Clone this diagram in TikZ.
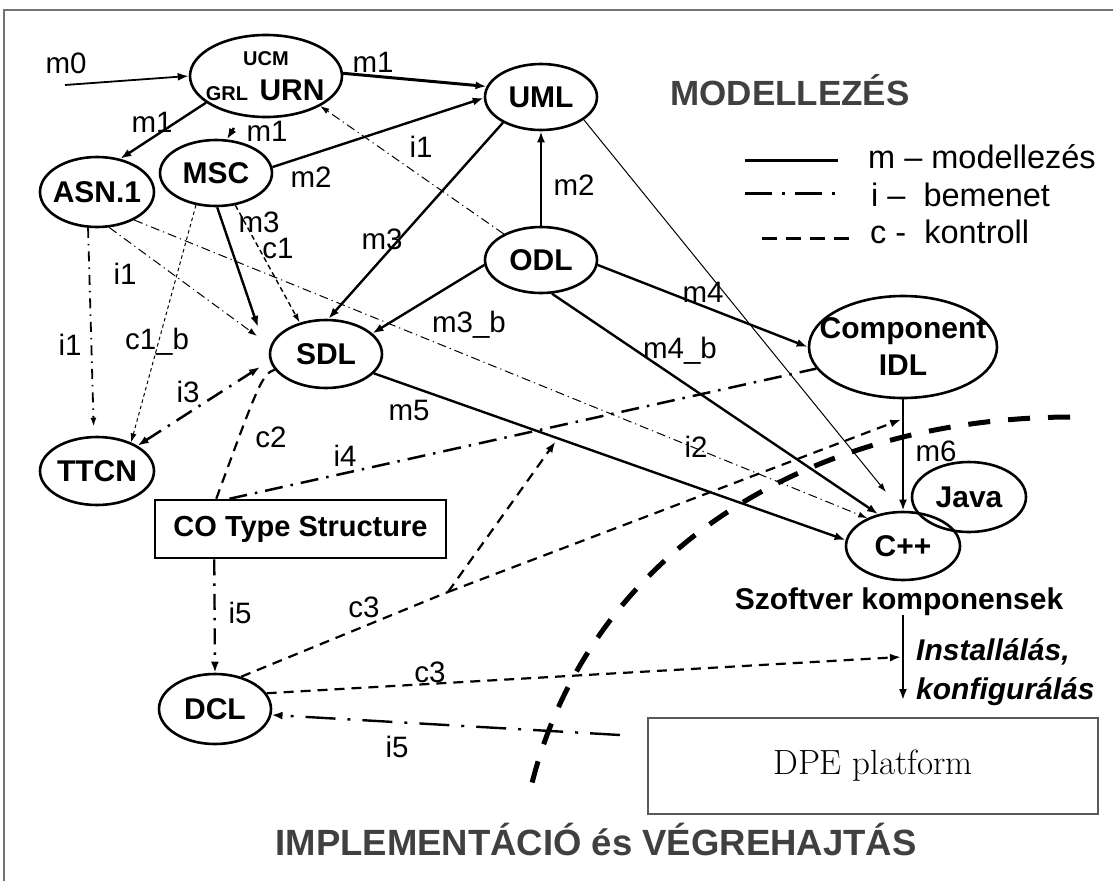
\documentclass[tikz,border=0pt]{standalone}
\usepackage{fontspec}
\setsansfont{Liberation Sans}
\usetikzlibrary{arrows.meta,shapes.geometric,calc}
\begin{document}
\begin{tikzpicture}[x=1pt,y=-1pt,
  ell/.style={ellipse, draw, line width=2.6pt, inner sep=-60pt, align=center,
    font=\sffamily\bfseries\fontsize{30}{37}\selectfont},
  lbl/.style={font=\sffamily\fontsize{29.5}{33}\selectfont, inner sep=0pt, text height=21pt, text depth=0pt},
  bigtip/.style={-{Latex[length=11pt,width=8pt]}},
  smalltip/.style={-{Latex[length=9pt,width=6pt]}},
  mline/.style={line width=2.4pt, bigtip},
  cdash/.style={line width=2.2pt, dash pattern=on 10pt off 7pt},
  cone/.style={line width=1.4pt, dash pattern=on 5pt off 3.5pt, smalltip},
  conebee/.style={line width=1pt, dash pattern=on 3.5pt off 3pt, smalltip},
  ithin/.style={line width=1pt, dash pattern=on 9pt off 4pt on 1.2pt off 4pt, smalltip},
  imed/.style={line width=1.8pt, dash pattern=on 10pt off 6pt on 1.5pt off 6pt, smalltip},
  ithick/.style={line width=2.5pt, dash pattern=on 18pt off 8pt on 2.5pt off 8pt},
  legtxt/.style={font=\sffamily\fontsize{32.5}{36}\selectfont, inner sep=0pt, anchor=base west}
]
\useasboundingbox (0,0) rectangle (1113,881);
% frame
\draw[line width=1.5pt, black!55] (4,881) -- (4,10) -- (1113,10);

% nodes
\node[ell, minimum width=152pt, minimum height=82pt] (URN) at (266,76) {};
\node[font=\sffamily\bfseries\fontsize{20}{24}\selectfont, inner sep=0pt, anchor=base] (ucm) at (266,65) {UCM};
\node[font=\sffamily\bfseries\fontsize{20}{24}\selectfont, inner sep=0pt, anchor=base] (grl) at (227,100) {GRL};
\node[font=\sffamily\bfseries\fontsize{30}{34}\selectfont, inner sep=0pt, anchor=base] (urnt) at (292,100) {URN};
\node[ell, minimum width=112pt, minimum height=66pt] (UML) at (541,97) {UML};
\node[ell, minimum width=112pt, minimum height=66pt] (ODL) at (541,260) {ODL};
\node[ell, minimum width=114pt, minimum height=70pt] (ASN) at (97,192) {ASN.1};
\node[ell, minimum width=112pt, minimum height=66pt] (MSC) at (216,173) {MSC};
\node[ell, minimum width=112pt, minimum height=68pt] (SDL) at (326,354) {SDL};
\node[ell, minimum width=114pt, minimum height=68pt] (TTCN) at (97,471) {TTCN};
\node[ell, minimum width=188pt, minimum height=102pt] (IDL) at (903,347) {Component\\IDL};
\node[ell, minimum width=114pt, minimum height=70pt] (Java) at (969,497) {Java};
\node[ell, minimum width=114pt, minimum height=68pt] (Cpp) at (903,546) {C++};
\node[ell, minimum width=112pt, minimum height=70pt] (DCL) at (215,709) {DCL};
\node[draw, line width=2.5pt, minimum width=291pt, minimum height=58pt, inner sep=0pt,
  font=\sffamily\bfseries\fontsize{29}{34}\selectfont] (CO) at (300.5,529) {CO Type Structure};
\node[draw=black!65, line width=1.3pt, minimum width=450pt, minimum height=96pt, inner sep=0pt,
  font=\rmfamily\fontsize{35}{40}\selectfont] (DPE) at (873,766) {DPE platform};

% titles and texts
\node[font=\sffamily\bfseries\fontsize{35}{40}\selectfont, text=black!75, inner sep=0pt, anchor=base] (tmod) at (790,105) {MODELLEZÉS};
\node[font=\sffamily\bfseries\fontsize{36.5}{42}\selectfont, text=black!75, inner sep=0pt, anchor=base] (timpl) at (596,855) {IMPLEMENTÁCIÓ és VÉGREHAJTÁS};
\node[font=\sffamily\bfseries\fontsize{30}{34}\selectfont, inner sep=0pt, anchor=base] (szoft) at (899,609) {Szoftver komponensek};
\node[font=\sffamily\bfseries\itshape\fontsize{30}{39}\selectfont, align=left, anchor=west, inner sep=0pt] (inst) at (916,672) {Installálás,\\konfigurálás};

% legend
\draw[line width=3pt] (745,160) -- (838,160);
\draw[line width=3pt, dash pattern=on 27pt off 10pt on 3pt off 10pt] (745,193) -- (838,193);
\draw[line width=3pt, dash pattern=on 15pt off 9pt] (762,238) -- (849,238);
\node[legtxt] (lgm) at (868,168) {m – modellezés};
\node[legtxt] (lgi) at (871,206) {i – \ bemenet};
\node[legtxt] (lgc) at (870,243) {c - \ kontroll};

% big boundary curve
\draw[line width=5pt, dash pattern=on 22pt off 18pt] (1070,417) .. controls (800,418) and (580,560) .. (528,800);

% coordinates for free ends
\coordinate (m0s) at (65,85);
\coordinate (sdlA) at (258,327);
\coordinate (sdlB) at (257,336);
\coordinate (i3e) at (260,367);
\coordinate (J) at (448,592);
\coordinate (i5b) at (620,735);
\coordinate (instend) at (903,700);
\coordinate (c2s) at ($(CO.north west)!0.213!(CO.north east)$);
\coordinate (i4s) at ($(CO.north west)!0.258!(CO.north east)$);
\coordinate (i5s) at ($(CO.south west)!0.206!(CO.south east)$);

% m connectors
\draw[line width=1.8pt, bigtip] (m0s) -- (URN.west);
\draw[line width=3pt, bigtip] (URN.2) -- (UML.169);
\draw[mline] (URN.204) -- (ASN.55);
\draw[mline, shorten <=14pt] (URN) -- (MSC.72);
\draw[mline] (MSC.6) -- (UML.181);
\draw[mline] (ODL.north) -- (UML.south);
\draw[mline] (UML.214) -- (SDL.86);
\draw[mline] (ODL.185) -- (SDL.24);
\draw[mline] (MSC.-88) -- (sdlA);
\draw[mline] (ODL.-5) -- (IDL.west);
\draw[mline] (ODL.-72) -- (Cpp.128);
\draw[mline] (SDL.-22) -- coordinate[pos=0.39] (m5c) (Cpp.174);
\draw[mline] (IDL.south) -- coordinate[pos=0.175] (m6c) (Cpp.north);
\draw[line width=1pt, smalltip, shorten >=24pt] (UML.-28) -- (Cpp.93);
\draw[line width=2pt, bigtip] (szoft.south -| instend) -- coordinate[pos=0.49] (instc) (instend);

% c connectors
\draw[cone] (MSC.-59) -- (SDL.130);
\draw[conebee] (MSC.238) -- (TTCN.40);
\draw[cdash] (c2s) .. controls (258,385) and (262,374) .. (SDL.197);
\draw[cdash] (DCL.51) -- (J);
\draw[cdash, bigtip, shorten >=4pt] (J) -- (m5c);
\draw[cdash, bigtip, shorten >=2pt] (J) -- (m6c);
\draw[cdash, bigtip, shorten >=2pt] (DCL.17) -- (instc);

% i connectors
\draw[ithin] (ODL.145) -- (URN.-29);
\draw[ithin] (ASN.-71) -- (sdlB);
\draw[imed, shorten >=9pt] (ASN.-104) -- (TTCN.95);
\draw[ithin] (ASN.-37) -- (Cpp.142);
\draw[ithick, {Latex[length=11pt,width=8pt]}-{Latex[length=11pt,width=8pt]}] (TTCN.32) -- (i3e);
\draw[ithick] (i4s) -- (IDL.194);
\draw[line width=2.4pt, dash pattern=on 16pt off 8pt on 2.5pt off 8pt, bigtip] (i5s) -- (DCL.north);
\draw[line width=2.4pt, dash pattern=on 30pt off 12pt on 3pt off 12pt, bigtip] (i5b) -- (DCL.-6);

% labels
\node[lbl] (lm0) at (66,63) {m0};
\node[lbl] (lm1a) at (373,62) {m1};
\node[lbl] (lm1b) at (152,122) {m1};
\node[lbl] (lm1c) at (267,131) {m1};
\node[lbl] (lm2a) at (311,177) {m2};
\node[lbl] (lm2b) at (574,185) {m2};
\node[lbl] (li1a) at (421,147) {i1};
\node[lbl] (lm3a) at (382,239) {m3};
\node[lbl] (lm3c) at (259,222) {m3};
\node[lbl] (lc1) at (278,248) {c1};
\node[lbl] (li1b) at (125,274) {i1};
\node[lbl] (lm3b) at (469,322) {m3\_b};
\node[lbl] (lm4) at (703,292) {m4};
\node[lbl] (lm4b) at (680,348) {m4\_b};
\node[lbl] (lc1b) at (157,339) {c1\_b};
\node[lbl] (li1c) at (70,345) {i1};
\node[lbl] (li3) at (188,392) {i3};
\node[lbl] (lm5) at (409,410) {m5};
\node[lbl] (lc2) at (271,437) {c2};
\node[lbl] (li4) at (345,456) {i4};
\node[lbl] (li2) at (696,447) {i2};
\node[lbl] (lm6) at (936,451) {m6};
\node[lbl] (li5a) at (240,613) {i5};
\node[lbl] (lc3a) at (364,607) {c3};
\node[lbl] (lc3b) at (430,672) {c3};
\node[lbl] (li5b) at (397,747) {i5};
\end{tikzpicture}
\end{document}
